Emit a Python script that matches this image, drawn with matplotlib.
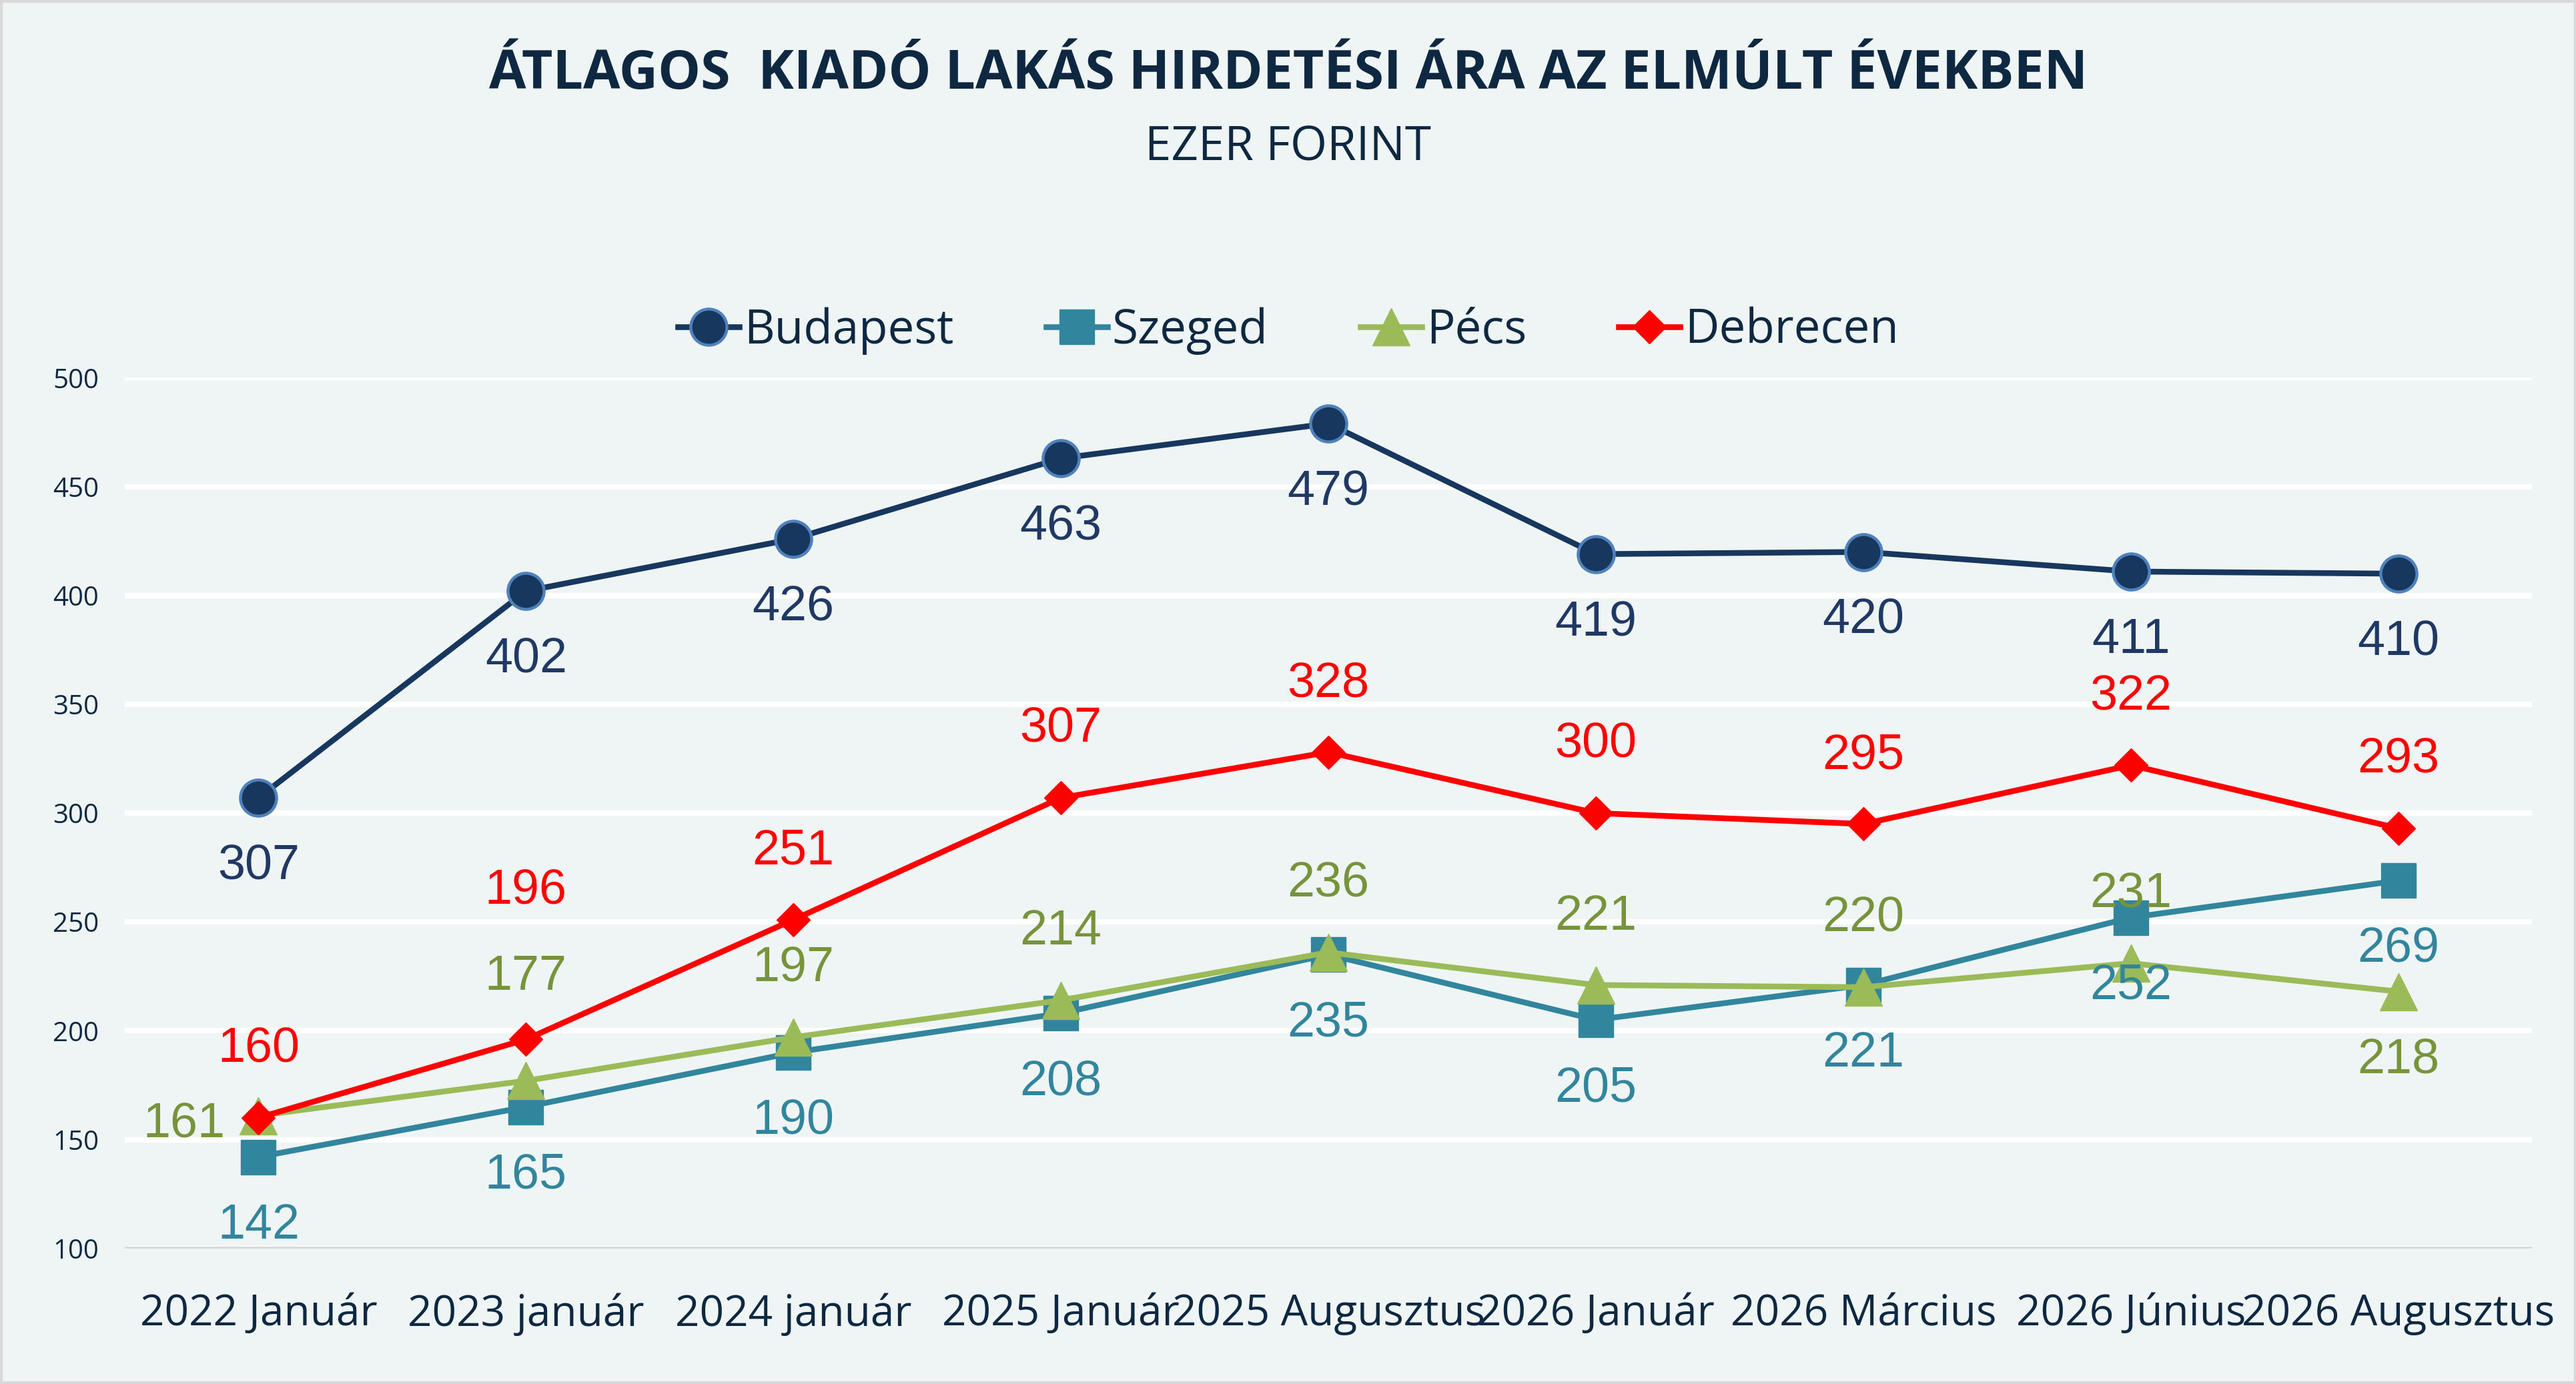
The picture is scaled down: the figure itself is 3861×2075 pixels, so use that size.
import numpy as np
import matplotlib.pyplot as plt
from matplotlib.patches import Rectangle

# ─── Data ────────────────────────────────────────────────
periods = ["2022 Január", "2023 január", "2024 január", "2025 Január",
           "2025 Augusztus", "2026 Január", "2026 Március", "2026 Június",
           "2026 Augusztus"]
budapest = [307, 402, 426, 463, 479, 419, 420, 411, 410]
szeged   = [142, 165, 190, 208, 235, 205, 221, 252, 269]
pecs     = [161, 177, 197, 214, 236, 221, 220, 231, 218]
debrecen = [160, 196, 251, 307, 328, 300, 295, 322, 293]
yticks   = [100, 150, 200, 250, 300, 350, 400, 450, 500]

BG      = "#EFF5F4"
NAVY    = "#0E2841"
LABELF  = ["Liberation Sans", "DejaVu Sans"]
TEXTF   = ["Open Sans", "DejaVu Sans"]

fig = plt.figure(figsize=(19.31, 10.375), dpi=200, facecolor=BG)
ax = fig.add_axes([0.0484, 0.098, 0.9343, 0.629])
ax.set_facecolor(BG)

x = np.arange(len(periods))

series = [
    # name, values, line colour, marker, size, face, edge, label colour, side
    ("Budapest", budapest, "#17375E", "o", 19.5, "#17375E", "#4F81BD", "#203864", "below"),
    ("Szeged",   szeged,   "#31859C", "s", 19.0, "#31859C", "#31859C", "#31859C", "below"),
    ("Pécs",     pecs,     "#9BBB59", "^", 20.5, "#9BBB59", "#9BBB59", "#77933C", "above"),
    ("Debrecen", debrecen, "#FF0000", "D", 12.7, "#FF0000", "#FF0000", "#FF0000", "above"),
]

# label position tweaks (offset points) for a few crowded points
special = {("Pécs", 0): (-40, -5), ("Pécs", 1): (0, 56), ("Pécs", 8): (0, -37),
           ("Debrecen", 1): (0, 80)}

for name, vals, lc, mk, ms, fc, ec, tc, side in series:
    ax.plot(x, vals, color=lc, linewidth=3.1, marker=mk, markersize=ms,
            markerfacecolor=fc, markeredgecolor=ec,
            markeredgewidth=1.6 if name == "Budapest" else 0.5,
            label=name, zorder=3)
    for i, v in enumerate(vals):
        dx, dy = special.get((name, i), (0, -37 if side == "below" else 37))
        ax.annotate(f"{v}", (x[i], v), xytext=(dx, dy), textcoords="offset points",
                    ha="center", va="center", fontsize=26.5, color=tc,
                    family=LABELF, zorder=4)

ax.set_xlim(-0.5, len(periods) - 0.5)
ax.set_ylim(100, 500)
ax.set_yticks(yticks)
ax.set_xticks(x)
ax.set_xticklabels(periods, fontsize=23, color=NAVY, family=TEXTF)
ax.tick_params(axis="y", labelsize=14.5, labelcolor=NAVY, length=0, pad=14)
ax.tick_params(axis="x", length=0, pad=24)
for t in ax.get_yticklabels():
    t.set_family(TEXTF)

ax.grid(axis="y", color="white", linewidth=3, zorder=0)
ax.set_axisbelow(True)
for s in ax.spines.values():
    s.set_visible(False)
ax.axhline(100, color="#D9D9D9", linewidth=2.2, zorder=1)

fig.text(0.5, 0.946, "ÁTLAGOS  KIADÓ LAKÁS HIRDETÉSI ÁRA AZ ELMÚLT ÉVEKBEN",
         ha="center", va="center", fontsize=29, fontweight="bold", color=NAVY,
         family=TEXTF)
fig.text(0.5, 0.893, "EZER FORINT", ha="center", va="center", fontsize=25.5,
         color=NAVY, family=TEXTF)

leg = fig.legend(loc="center", bbox_to_anchor=(0.5, 0.761), ncol=4, frameon=False,
                 handlelength=1.3, handletextpad=0.1, columnspacing=1.95,
                 prop={"family": TEXTF, "size": 25.5})
for t in leg.get_texts():
    t.set_color(NAVY)

fig.patches.append(Rectangle((0, 0), 1, 1, transform=fig.transFigure, fill=False,
                             edgecolor="#D9D9D9", linewidth=3))

fig.savefig("out.png", dpi=200, facecolor=BG)
